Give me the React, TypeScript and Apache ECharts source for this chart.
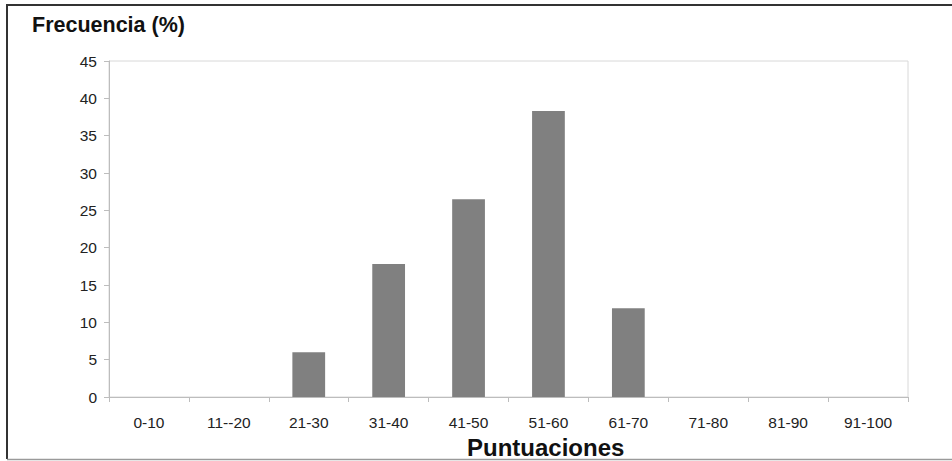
import React, { useEffect, useRef } from "react";
import * as echarts from "echarts";

const categories = ["0-10", "11--20", "21-30", "31-40", "41-50", "51-60", "61-70", "71-80", "81-90", "91-100"];
const frecuencia = [0, 0, 6.0, 17.8, 26.5, 38.3, 11.9, 0, 0, 0];
const yTitle = "Frecuencia (%)";
const xTitle = "Puntuaciones";

const FONT = "'Liberation Sans', Arial, sans-serif";

export default function App() {
  const ref = useRef<HTMLDivElement>(null);
  useEffect(() => {
    if (!ref.current) return;
    const chart = echarts.init(ref.current, undefined, { renderer: "svg" });
    chart.setOption({
      animation: false,
      backgroundColor: "#ffffff",
      grid: {
        left: 109,
        right: 44,
        top: 61,
        bottom: 64,
        show: true,
        borderColor: "#d8d8d8",
        borderWidth: 1,
        backgroundColor: "transparent",
      },
      xAxis: {
        type: "category",
        data: categories,
        boundaryGap: true,
        axisLine: { show: true, lineStyle: { color: "#bdbdbd", width: 1 } },
        axisTick: { show: true, alignWithLabel: false, length: 5, lineStyle: { color: "#bdbdbd" } },
        axisLabel: { color: "#222", fontSize: 15.5, fontFamily: FONT, margin: 17 },
        splitLine: { show: false },
      },
      yAxis: {
        type: "value",
        min: 0,
        max: 45,
        interval: 5,
        axisLine: { show: true, lineStyle: { color: "#bdbdbd", width: 1 } },
        axisTick: { show: true, length: 5, lineStyle: { color: "#bdbdbd" } },
        axisLabel: { color: "#222", fontSize: 15.5, fontFamily: FONT, margin: 12 },
        splitLine: { show: false },
      },
      series: [
        {
          type: "bar",
          data: frecuencia,
          barWidth: "41%",
          itemStyle: { color: "#808080", borderWidth: 0 },
        },
      ],
      graphic: [
        {
          type: "polyline",
          shape: { points: [[952, 5], [7, 5], [7, 459]] },
          style: { stroke: "#333", lineWidth: 2, fill: "none" },
          silent: true,
        },
        {
          type: "line",
          shape: { x1: 7, y1: 459.5, x2: 952, y2: 459.5 },
          style: { stroke: "#9a9a9a", lineWidth: 1.5 },
          silent: true,
        },
        {
          type: "text",
          left: 32,
          top: 14,
          style: { text: yTitle, font: `bold 21.5px ${FONT}`, fill: "#111" },
        },
        {
          type: "text",
          left: 467,
          top: 435,
          style: { text: xTitle, font: `bold 24px ${FONT}`, fill: "#111" },
        },
      ],
    });
    return () => chart.dispose();
  }, []);
  return <div ref={ref} style={{ position: "fixed", left: 0, top: 0, width: 952, height: 461 }} />;
}
